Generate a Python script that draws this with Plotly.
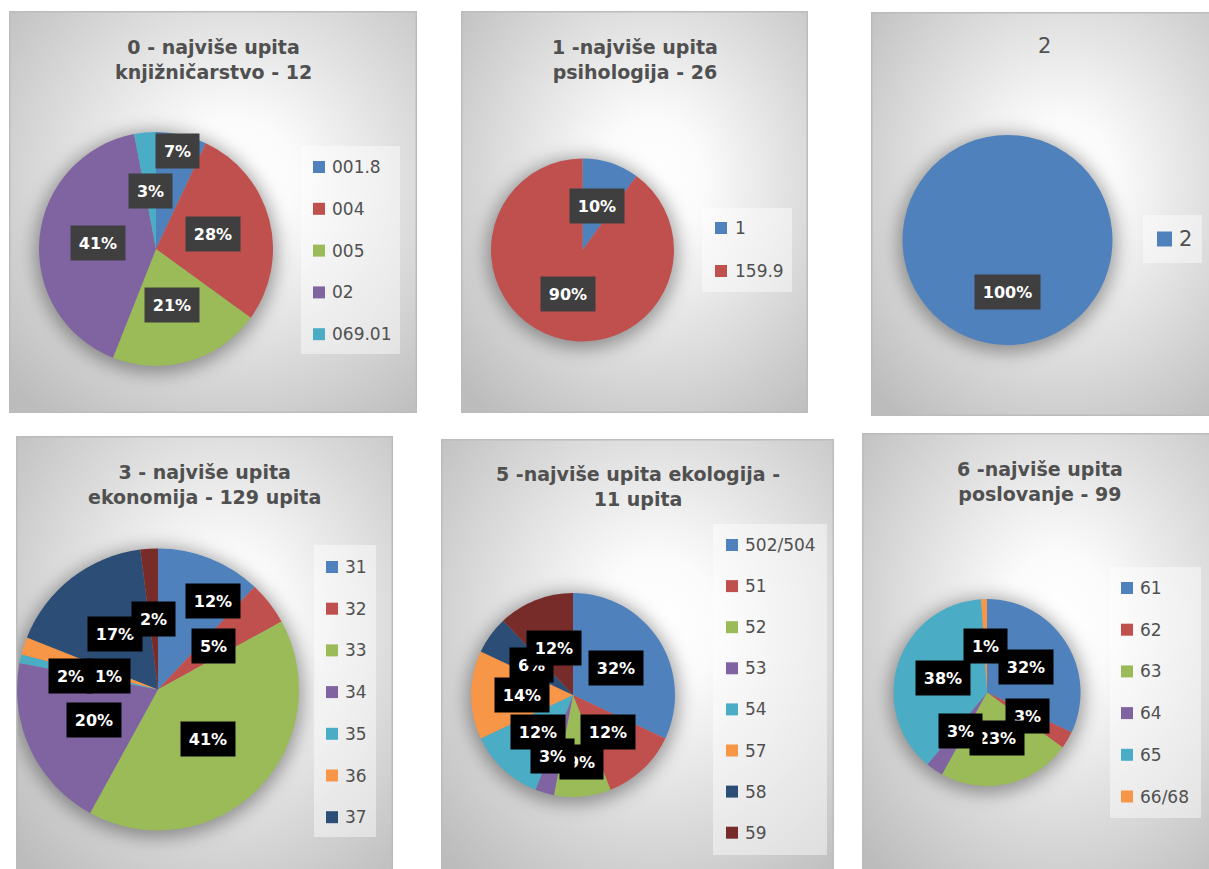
import math
import base64
import plotly.graph_objects as go

W, H = 1209, 869

# ---------------- data ----------------
titles = [
    "0 - najviše upita<br>knjižničarstvo - 12",
    "1 -najviše upita<br>psihologija - 26",
    "2",
    "3 - najviše upita<br>ekonomija - 129 upita",
    "5 -najviše upita ekologija -<br>11 upita",
    "6 -najviše upita<br>poslovanje - 99",
]
labels_0 = ["001.8", "004", "005", "02", "069.01"]
values_0 = [7, 28, 21, 41, 3]
labels_1 = ["1", "159.9"]
values_1 = [10, 90]
labels_2 = ["2"]
values_2 = [100]
labels_3 = ["31", "32", "33", "34", "35", "36", "37", "38"]
values_3 = [12, 5, 41, 20, 1, 2, 17, 2]
labels_4 = ["502/504", "51", "52", "53", "54", "57", "58", "59"]
values_4 = [32, 12, 9, 3, 12, 14, 6, 12]
labels_5 = ["61", "62", "63", "64", "65", "66/68"]
values_5 = [32, 3, 23, 3, 38, 1]

all_labels = [labels_0, labels_1, labels_2, labels_3, labels_4, labels_5]
all_values = [values_0, values_1, values_2, values_3, values_4, values_5]

# ---------------- styles / layout ----------------
palette = ["#4F81BD", "#C0504D", "#9BBB59", "#8064A2", "#4BACC6", "#F79646", "#2C4D75", "#772C2A"]
FONT = "DejaVu Sans"
TXT = "#505050"

panels = [
    dict(rect=(9, 11, 417, 413), pie=(156, 249, 117), title=(213, 59, 19, True),
         leg=(301, 146, 400, 354), sw=(313, 12), tx=330, ly=(167, 41.8), lfs=17, nleg=5,
         lbg="#3f3f3f", nudge={0: (9, -41)}),
    dict(rect=(461, 11, 808, 413), pie=(582.5, 250, 91.5), title=(635, 59, 19, True),
         leg=(702, 208, 792, 292), sw=(715, 12), tx=733, ly=(228, 43), lfs=17, nleg=2,
         lbg="#3f3f3f", nudge={}),
    dict(rect=(871, 12, 1220, 416), pie=(1007.5, 240, 105), title=(1044, 46, 21, False),
         leg=(1143, 215, 1202, 263), sw=(1157, 15), tx=1177, ly=(239, 0), lfs=21, nleg=1,
         lbg="#3f3f3f", nudge={}),
    dict(rect=(16, 436, 393, 880), pie=(158, 689.5, 141), title=(204, 484.5, 19, True),
         leg=(314, 545, 376, 837), sw=(326, 12), tx=343, ly=(567, 41.7), lfs=17, nleg=7,
         lbg="#000000", nudge={0: (29, -23), 4: (19, 2), 5: (-20, 8)}),
    dict(rect=(441, 439, 834, 880), pie=(573, 695, 102), title=(638, 486, 19, True),
         leg=(713, 524, 827, 855), sw=(726, 12), tx=743, ly=(545, 41.1), lfs=17, nleg=8,
         lbg="#000000", nudge={2: (4, 16), 3: (-6, 12)}),
    dict(rect=(862, 433, 1220, 880), pie=(987, 692.5, 93.5), title=(1040, 481, 19, True),
         leg=(1110, 567, 1201, 818), sw=(1121, 12), tx=1138, ly=(588, 41.7), lfs=17, nleg=6,
         lbg="#000000", nudge={}),
]


def px(x):
    return x / W


def py(y):
    return 1 - y / H


def background_svg(p):
    x0, y0, x1, y1 = p["rect"]
    w, h = x1 - x0, y1 - y0
    cx, cy, r = p["pie"]
    lx0, ly0, lx1, ly1 = p["leg"]
    svg = f'''<svg xmlns="http://www.w3.org/2000/svg" width="{w}" height="{h}" viewBox="0 0 {w} {h}">
<defs>
<radialGradient id="g" cx="55%" cy="42%" r="75%">
<stop offset="0" stop-color="#ffffff"/>
<stop offset="0.2" stop-color="#fbfbfb"/>
<stop offset="1" stop-color="#bcbcbc"/>
</radialGradient>
<filter id="b" x="-50%" y="-50%" width="200%" height="200%"><feGaussianBlur stdDeviation="9"/></filter>
</defs>
<rect x="0" y="0" width="{w}" height="{h}" fill="url(#g)"/>
<circle cx="{cx - x0}" cy="{cy - y0 + 3}" r="{r + 4}" fill="#000000" fill-opacity="0.36" filter="url(#b)"/>
<rect x="{lx0 - x0}" y="{ly0 - y0}" width="{lx1 - lx0}" height="{ly1 - ly0}" fill="#ffffff" fill-opacity="0.45"/>
<rect x="0.75" y="0.75" width="{w - 1.5}" height="{h - 1.5}" fill="none" stroke="#bcbcbc" stroke-width="1.5"/>
</svg>'''
    return "data:image/svg+xml;base64," + base64.b64encode(svg.encode("utf-8")).decode("ascii")


fig = go.Figure()
images, shapes, annotations = [], [], []

for i, p in enumerate(panels):
    labs, vals = all_labels[i], all_values[i]
    cols = palette[:len(labs)]
    cx, cy, r = p["pie"]
    x0, y0, x1, y1 = p["rect"]

    images.append(dict(source=background_svg(p), xref="paper", yref="paper",
                       x=px(x0), y=py(y0), sizex=(x1 - x0) / W, sizey=(y1 - y0) / H,
                       xanchor="left", yanchor="top", sizing="stretch", layer="below"))

    fig.add_trace(go.Pie(
        labels=labs, values=vals, sort=False, direction="clockwise", rotation=0,
        marker=dict(colors=cols, line=dict(width=0)),
        textinfo="none", hoverinfo="label+percent", showlegend=False,
        domain=dict(x=[px(cx - r), px(cx + r)], y=[py(cy + r), py(cy - r)]),
    ))

    # title
    tx_, ty_, tfs, tbold = p["title"]
    annotations.append(dict(
        x=px(tx_), y=py(ty_), xref="paper", yref="paper", showarrow=False,
        text=f"<b>{titles[i]}</b>" if tbold else titles[i],
        font=dict(family=FONT, size=tfs, color=TXT), xanchor="center", yanchor="middle",
        align="center"))

    # legend
    sx, ss = p["sw"]
    ly_first, ly_step = p["ly"]
    for k in range(p["nleg"]):
        yk = ly_first + k * ly_step
        shapes.append(dict(type="rect", xref="paper", yref="paper",
                           x0=px(sx), x1=px(sx + ss), y0=py(yk + ss / 2), y1=py(yk - ss / 2),
                           fillcolor=cols[k], line=dict(width=0), layer="above"))
        annotations.append(dict(
            x=px(p["tx"]), y=py(yk), xref="paper", yref="paper", showarrow=False,
            text=labs[k], font=dict(family=FONT, size=p["lfs"], color=TXT),
            xanchor="left", yanchor="middle"))

    # data labels (Excel-style boxed percentages)
    total = sum(vals)
    cum = 0
    for k, v in enumerate(vals):
        mid = (cum + v / 2) / total * 2 * math.pi
        cum += v
        lx = cx + 0.5 * r * math.sin(mid)
        lyy = cy - 0.5 * r * math.cos(mid)
        dx, dy = p["nudge"].get(k, (0, 0))
        lx += dx
        lyy += dy
        t = f"{round(v / total * 100)}%"
        annotations.append(dict(
            x=px(lx), y=py(lyy), xref="paper", yref="paper", showarrow=False,
            text=f"<b>{t}</b>", font=dict(family=FONT, size=16, color="#ffffff"),
            bgcolor=p["lbg"], borderpad=7, width=11 * len(t) + 7, height=20,
            xanchor="center", yanchor="middle", align="center"))

fig.update_layout(
    width=W, height=H, margin=dict(l=0, r=0, t=0, b=0),
    paper_bgcolor="#ffffff", plot_bgcolor="#ffffff",
    images=images, shapes=shapes, annotations=annotations,
    showlegend=False,
)

fig.write_html("out.html", config={"displayModeBar": False},
               post_script="document.body.style.margin='0px';document.body.style.overflow='hidden';")
